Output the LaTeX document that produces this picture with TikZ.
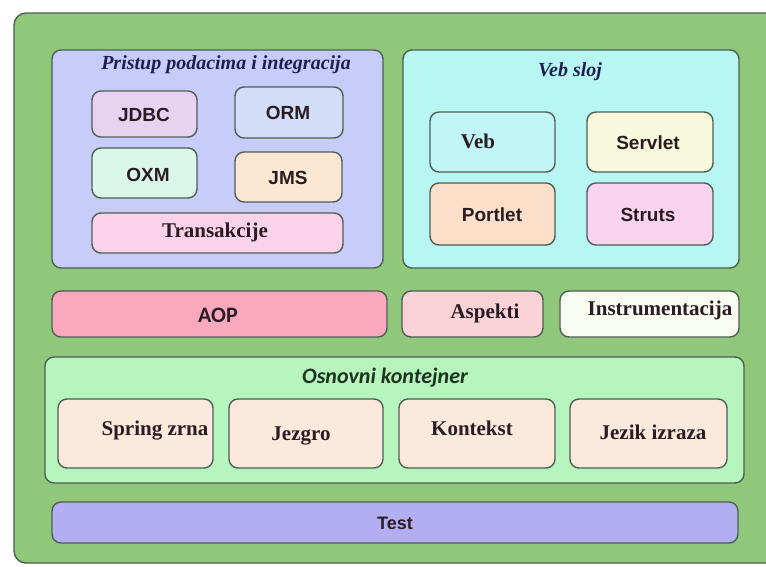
\documentclass[tikz,border=0pt]{standalone}
\usepackage{fontspec}
\setmainfont{Liberation Serif}
\setsansfont{Liberation Sans}
\newfontfamily\calfont{Carlito}
\definecolor{outerg}{HTML}{8FC87A}
\definecolor{bordc}{HTML}{4E5E55}
\definecolor{daic}{HTML}{C8CCF8}
\definecolor{webc}{HTML}{B8F6F3}
\definecolor{jdbcc}{HTML}{E6D3F2}
\definecolor{ormc}{HTML}{D2DDF7}
\definecolor{oxmc}{HTML}{DAF8EA}
\definecolor{jmsc}{HTML}{FCE8D2}
\definecolor{transc}{HTML}{FAD2EA}
\definecolor{vebc}{HTML}{C2F6F6}
\definecolor{servc}{HTML}{F7F8DC}
\definecolor{portc}{HTML}{FBDFC9}
\definecolor{strutc}{HTML}{FAD4EE}
\definecolor{aopc}{HTML}{F9A8BE}
\definecolor{aspc}{HTML}{F9D3D8}
\definecolor{instc}{HTML}{F7FBF0}
\definecolor{osnc}{HTML}{B6F5BE}
\definecolor{innc}{HTML}{FBE9DC}
\definecolor{testc}{HTML}{B3AEF2}
\definecolor{navy}{HTML}{1F1F4F}
\definecolor{dgreen}{HTML}{1C3320}
\definecolor{txtc}{HTML}{2A1C22}
\begin{document}
\begin{tikzpicture}[x=1pt,y=-1pt,
  box/.style={draw=bordc, line width=1.4pt, rounded corners=9pt, anchor=north west, inner sep=0pt, outer sep=0pt},
  sanslbl/.style={font=\fontsize{19}{19}\selectfont\sffamily\bfseries, text=txtc, inner sep=0pt, text height=13.6pt, text depth=0pt},
  seriflbl/.style={font=\fontsize{21}{21}\selectfont\bfseries, text=txtc, inner sep=0pt, text height=13.9pt, text depth=0pt},
  titlelbl/.style={font=\fontsize{20}{20}\selectfont\bfseries\itshape, text=navy, inner sep=0pt, text height=13.2pt, text depth=0pt},
  callbl/.style={font=\fontsize{22}{22}\selectfont\calfont\bfseries, text=txtc, inner sep=0pt, text height=14pt, text depth=0pt}
]
\useasboundingbox (0,0) rectangle (766,566);
\clip (0,0) rectangle (766,566);
\fill[white] (0,0) rectangle (766,566);

% outer container
\node[box, fill=outerg, rounded corners=12pt, minimum width=776, minimum height=550] (outer) at (14,13) {};

% data access / integration
\node[box, fill=daic, minimum width=331, minimum height=218] (dai) at (52,50) {};
\node[titlelbl] (dait) at (226,63) {Pristup podacima i integracija};
\node[box, fill=jdbcc, minimum width=105, minimum height=46] (jdbc) at (92,91) {};
\node[sanslbl] (jdbct) at (144,115) {JDBC};
\node[box, fill=ormc, minimum width=108, minimum height=51] (orm) at (235,87) {};
\node[sanslbl] (ormt) at (288,113) {ORM};
\node[box, fill=oxmc, minimum width=105, minimum height=50] (oxm) at (92,148) {};
\node[sanslbl] (oxmt) at (148,175) {OXM};
\node[box, fill=jmsc, minimum width=107, minimum height=50] (jms) at (235,152) {};
\node[sanslbl] (jmst) at (288,178) {JMS};
\node[box, fill=transc, minimum width=251, minimum height=40] (trans) at (92,213) {};
\node[seriflbl] (transt) at (215,231) {Transakcije};

% web layer
\node[box, fill=webc, minimum width=336, minimum height=218] (web) at (403,50) {};
\node[titlelbl] (webt) at (570,70) {Veb sloj};
\node[box, fill=vebc, minimum width=125, minimum height=60] (veb) at (430,112) {};
\node[seriflbl] (vebt) at (478,142) {Veb};
\node[box, fill=servc, minimum width=126, minimum height=60] (serv) at (587,112) {};
\node[sanslbl] (servt) at (648,143) {Servlet};
\node[box, fill=portc, minimum width=125, minimum height=62] (port) at (430,183) {};
\node[sanslbl] (portt) at (492,215) {Portlet};
\node[box, fill=strutc, minimum width=126, minimum height=62] (strut) at (587,183) {};
\node[sanslbl] (strutt) at (648,215) {Struts};

% AOP row
\node[box, fill=aopc, minimum width=335, minimum height=46] (aop) at (52,291) {};
\node[callbl] (aopt) at (218,315) {AOP};
\node[box, fill=aspc, minimum width=141, minimum height=46] (asp) at (402,291) {};
\node[seriflbl] (aspt) at (485,312) {Aspekti};
\node[box, fill=instc, minimum width=179, minimum height=46] (inst) at (560,291) {};
\node[seriflbl] (instt) at (660,309) {Instrumentacija};

% core container
\node[box, fill=osnc, minimum width=699, minimum height=126] (osn) at (45,357) {};
\node[font=\fontsize{22}{22}\selectfont\calfont\bfseries\itshape, text=dgreen, inner sep=0pt, text height=14pt, text depth=0pt] (osnt) at (385,376) {Osnovni kontejner};
\node[box, fill=innc, minimum width=155, minimum height=69] (spring) at (58,399) {};
\node[seriflbl] (springt) at (155,429) {Spring zrna};
\node[box, fill=innc, minimum width=154, minimum height=69] (jezgro) at (229,399) {};
\node[seriflbl] (jezgrot) at (301,434) {Jezgro};
\node[box, fill=innc, minimum width=156, minimum height=69] (kont) at (399,399) {};
\node[seriflbl] (kontt) at (472,429) {Kontekst};
\node[box, fill=innc, minimum width=157, minimum height=69] (jezik) at (570,399) {};
\node[seriflbl] (jezikt) at (653,433) {Jezik izraza};

% test
\node[box, fill=testc, minimum width=686, minimum height=41] (test) at (52,502) {};
\node[sanslbl, font=\fontsize{18}{18}\selectfont\sffamily\bfseries] (testt) at (395,523) {Test};
\end{tikzpicture}
\end{document}
